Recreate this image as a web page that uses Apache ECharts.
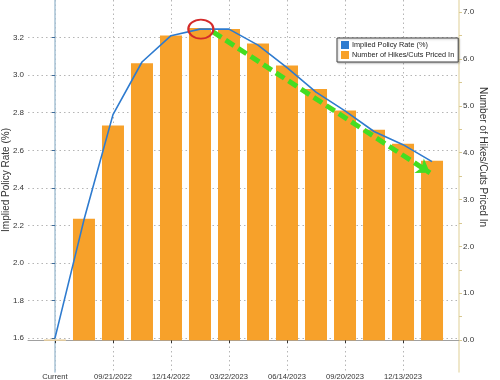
<!DOCTYPE html>
<html><head><meta charset="utf-8">
<script src="https://cdn.jsdelivr.net/npm/echarts@6/dist/echarts.min.js"></script>
<style>html,body{margin:0;padding:0;background:#fff}#c{width:500px;height:380px}</style>
</head><body><div id="c"></div>
<script>
// ---- data ----
const categories = ['Current','07/27/2022','09/21/2022','11/02/2022','12/14/2022','02/01/2023','03/22/2023','05/03/2023','06/14/2023','07/26/2023','09/20/2023','11/01/2023','12/13/2023','01/31/2024'];
const labelIndices = [0,2,4,6,8,10,12];
const impliedRate = [1.60,2.23,2.79,3.07,3.21,3.245,3.245,3.16,3.04,2.91,2.81,2.70,2.63,2.54];
const hikesPriced = [0,2.59,4.58,5.91,6.50,6.66,6.64,6.33,5.86,5.36,4.90,4.49,4.19,3.83];
const leftTicks = [1.6,1.8,2.0,2.2,2.4,2.6,2.8,3.0,3.2];
const rightTicks = [0,1,2,3,4,5,6,7];
const rightMinorTicks = [0.5,1.5,2.5,3.5,4.5,5.5,6.5];
const peakMarker = [5.03,3.245];
const trendArrow = [[5.45,3.23],[12.93,2.48]];
const rateName = 'Implied Policy Rate (%)';
const hikesName = 'Number of Hikes/Cuts Priced In';

const FONT = '"Liberation Sans",Arial,sans-serif';
const chart = echarts.init(document.getElementById('c'));
chart.setOption({
  animation: false,
  textStyle: {fontFamily: FONT},
  grid: {left: 28, right: 41, top: 0, bottom: 8, containLabel: false, outerBoundsMode: 'none'},
  legend: {
    orient: 'vertical', left: 337, top: 38, icon: 'rect', itemWidth: 8, itemHeight: 8, itemGap: 2,
    padding: [3,4,3,4], borderColor: '#444', borderWidth: 1, backgroundColor: '#fff',
    shadowColor: 'rgba(0,0,0,0.25)', shadowBlur: 2, shadowOffsetX: 1, shadowOffsetY: 1,
    textStyle: {fontSize: 7.3, color: '#222', fontFamily: FONT, padding: [0,0,0,-2]},
    data: [rateName, hikesName]
  },
  xAxis: {
    type: 'value', min: -0.93, max: 13.93,
    axisLine: {show: true, lineStyle: {color: '#a0a0a0', width: 1}},
    axisTick: {show: true, customValues: labelIndices, length: 3, lineStyle: {color: '#333'}},
    axisLabel: {customValues: labelIndices, formatter: v => categories[Math.round(v)], fontSize: 7.6, color: '#333', margin: 1, fontFamily: FONT},
    splitLine: {show: true, lineStyle: {color: '#b5b5b5', type: [1.5,3], width: 1}}
  },
  yAxis: [{
    type: 'value', position: 'left', min: 1.42, max: 3.4,
    name: rateName, nameLocation: 'middle', nameGap: 17, nameMoveOverlap: false,
    nameTextStyle: {fontSize: 10, color: '#333', fontFamily: FONT, padding: [0,0,0,12]},
    axisLine: {show: true, lineStyle: {color: '#a9c3d6', width: 1.5}},
    axisTick: {show: true, customValues: leftTicks, length: 3, lineStyle: {color: '#3d6a99'}},
    axisLabel: {customValues: leftTicks, formatter: v => v.toFixed(1), fontSize: 8, color: '#333', margin: 4, fontFamily: FONT},
    splitLine: {show: true, lineStyle: {color: '#b5b5b5', type: [1.5,3], width: 1}}
  }, {
    type: 'value', position: 'right', min: -0.68, max: 7.26,
    name: hikesName, nameLocation: 'middle', nameGap: 19, nameRotate: -90, nameMoveOverlap: false,
    nameTextStyle: {fontSize: 10, color: '#333', fontFamily: FONT, padding: [0,58,0,0]},
    axisLine: {show: true, lineStyle: {color: '#eadfb8', width: 1.5}},
    axisTick: {show: true, customValues: rightTicks.concat(rightMinorTicks), length: 3, lineStyle: {color: '#d8c890'}},
    axisLabel: {customValues: rightTicks, formatter: v => v.toFixed(1), fontSize: 8, color: '#333', margin: 4, fontFamily: FONT},
    splitLine: {show: false}
  }],
  series: [{
    name: hikesName, type: 'bar', xAxisIndex: 0, yAxisIndex: 1, barWidth: 22, z: 2,
    itemStyle: {color: '#f7a12a'},
    data: hikesPriced.map((v, i) => i === 0 ? {value: [i, v], itemStyle: {borderColor: '#e9cf9e', borderWidth: 1}} : [i, v])
  }, {
    name: rateName, type: 'line', xAxisIndex: 0, yAxisIndex: 0, z: 3,
    symbol: 'none', lineStyle: {color: '#2e7bcf', width: 1.6}, itemStyle: {color: '#2e7bcf'},
    data: impliedRate.map((v, i) => [i, v]),
    markPoint: {
      silent: true, symbol: 'circle', symbolSize: [25, 19],
      itemStyle: {color: 'rgba(255,255,255,0)', borderColor: '#d42a2a', borderWidth: 2},
      label: {show: false},
      data: [{coord: peakMarker}]
    },
    markLine: {
      silent: true, symbol: ['none', 'arrow'], symbolSize: 13,
      lineStyle: {color: '#44dd22', width: 5, type: [10, 5]},
      label: {show: false},
      data: [[{coord: trendArrow[0]}, {coord: trendArrow[1]}]]
    }
  }]
});
</script></body></html>
